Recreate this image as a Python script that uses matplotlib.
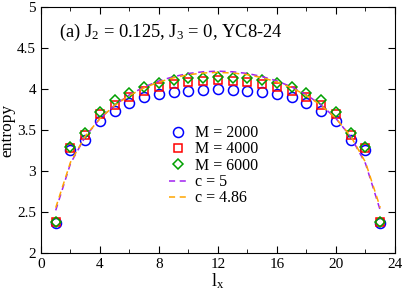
import matplotlib
matplotlib.use("Agg")
import matplotlib.pyplot as plt
from matplotlib.ticker import MultipleLocator

plt.rcParams['font.family'] = ['Liberation Serif', 'DejaVu Serif']
plt.rcParams['mathtext.fontset'] = 'custom'
plt.rcParams['mathtext.rm'] = 'Liberation Serif'
plt.rcParams['mathtext.it'] = 'Liberation Serif:italic'

# subsystem length
lx = list(range(1, 24))

# entanglement entropy for different bond dimensions
s_m2000 = [2.37, 3.25, 3.38, 3.61, 3.73, 3.83, 3.90, 3.935, 3.96, 3.98, 3.99, 3.995,
           3.99, 3.98, 3.96, 3.935, 3.90, 3.83, 3.73, 3.61, 3.38, 3.25, 2.37]
s_m4000 = [2.38, 3.28, 3.44, 3.69, 3.81, 3.90, 3.97, 4.02, 4.06, 4.085, 4.10, 4.11,
           4.10, 4.085, 4.06, 4.02, 3.97, 3.90, 3.81, 3.69, 3.44, 3.28, 2.38]
s_m6000 = [2.38, 3.29, 3.46, 3.72, 3.86, 3.95, 4.02, 4.07, 4.11, 4.13, 4.14, 4.15,
           4.14, 4.13, 4.11, 4.07, 4.02, 3.95, 3.86, 3.72, 3.46, 3.29, 2.38]

# fitted curves
fit_c5 = [2.520, 3.091, 3.417, 3.640, 3.804, 3.929, 4.025, 4.098, 4.151, 4.189, 4.210, 4.217,
          4.210, 4.189, 4.151, 4.098, 4.025, 3.929, 3.804, 3.640, 3.417, 3.091, 2.520]
fit_c486 = [2.553, 3.107, 3.424, 3.641, 3.800, 3.921, 4.015, 4.085, 4.138, 4.174, 4.195, 4.202,
            4.195, 4.174, 4.138, 4.085, 4.015, 3.921, 3.800, 3.641, 3.424, 3.107, 2.553]

fig = plt.figure(figsize=(4.07, 2.91), dpi=100)
ax = fig.add_axes([0.1007, 0.1306, 0.8698, 0.8454])

ax.plot(lx, s_m2000, 'o', ms=7.2, mfc='none', mec='#0000ff', mew=1.1, label='M = 2000')
ax.plot(lx, s_m4000, 's', ms=6, mfc='none', mec='#ff0000', mew=1.1, label='M = 4000')
ax.plot(lx, s_m6000, 'D', ms=5.5, mfc='none', mec='#00a000', mew=1.1, label='M = 6000')
ax.plot(lx, fit_c5, '--', color='#a020f0', lw=1.1, dashes=(4, 3), label='c = 5')
ax.plot(lx, fit_c486, '--', color='#ffa500', lw=1.1, dashes=(4, 3), label='c = 4.86')

ax.set_xlim(0, 24)
ax.set_ylim(2, 5)
ax.xaxis.set_major_locator(MultipleLocator(4))
ax.xaxis.set_minor_locator(MultipleLocator(2))
ax.yaxis.set_major_locator(MultipleLocator(0.5))
ax.tick_params(which='both', direction='in', top=True, right=True, labelsize=11)
ax.tick_params(which='major', length=5)
ax.tick_params(which='minor', length=3)
ax.yaxis.set_major_formatter(plt.FuncFormatter(lambda v, p: ('%g' % v)))

ax.set_xlabel(r'$\mathregular{l_x}$', fontsize=13, labelpad=0)
ax.set_ylabel('entropy', fontsize=12.5, labelpad=1)

ax.text(0.05, 0.88, r'(a) $\mathregular{J_2}$ = 0.125, $\mathregular{J_3}$ = 0, YC8-24',
        transform=ax.transAxes, fontsize=13.3)

ax.legend(loc='upper left', bbox_to_anchor=(0.33, 0.565), frameon=False, fontsize=11.5,
          handlelength=1.1, handletextpad=0.55, labelspacing=0.02, borderpad=0.2)

fig.savefig('out.png', dpi=100)
